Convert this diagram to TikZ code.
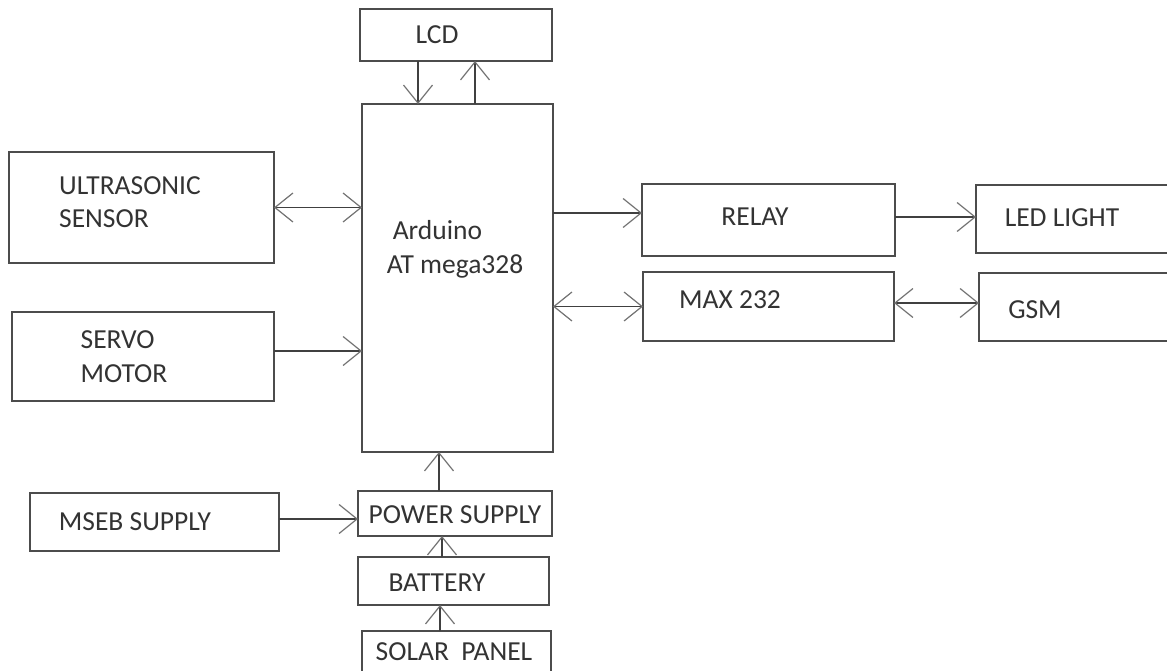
\documentclass[tikz,border=0pt]{standalone}
\usepackage{fontspec}
\setmainfont{Carlito}
\usetikzlibrary{arrows.meta}
\tikzset{
  blk/.style={draw=black!70, line width=2pt, rectangle, inner sep=0pt, outer sep=0pt},
  txt/.style={text=black!80, inner sep=0pt, align=left, font=\fontsize{27.5pt}{33.5pt}\selectfont},
  link/.style={draw=black!75, line width=1.5pt, -{Straight Barb[length=18pt, width=29pt, line width=1.2pt, color=black!55]}},
  link2/.style={link, {Straight Barb[length=18pt, width=29pt, line width=1.2pt, color=black!55]}-{Straight Barb[length=18pt, width=29pt, line width=1.2pt, color=black!55]}}
}

\begin{document}
\begin{tikzpicture}[x=1pt, y=-1pt]
    \fill[white] (0,0) rectangle (1167,671);
    \clip (0,0) rectangle (1167,671);
% Blocks
    \node[blk, minimum width=192, minimum height=52] (lcd) at (456,35) {};
    \node[blk, minimum width=191, minimum height=348] (ard) at (457.5,278) {};
    \node[blk, minimum width=265, minimum height=111] (us) at (141.5,207.5) {};
    \node[blk, minimum width=262, minimum height=89] (sv) at (143,356.5) {};
    \node[blk, minimum width=253, minimum height=72] (rl) at (768.5,220) {};
    \node[blk, minimum width=251, minimum height=69] (mx) at (768.5,306.5) {};
    \node[blk, minimum width=224, minimum height=68] (led) at (1088,219) {};
    \node[blk, minimum width=221, minimum height=68] (gsm) at (1089.5,307) {};
    \node[blk, minimum width=249, minimum height=58] (ms) at (154.5,522) {};
    \node[blk, minimum width=194, minimum height=45] (ps) at (455,513.5) {};
    \node[blk, minimum width=191, minimum height=48] (bat) at (453.5,581) {};
    \node[blk, minimum width=189, minimum height=59] (sol) at (456.5,660.5) {};
% Texts
    \node[txt] (lcdT) at (437,35) {LCD};
    \node[txt] (ardT) at (455,249.5) {\hspace*{6pt}Arduino\\AT mega328};
    \node[txt] (usT) at (130,202) {ULTRASONIC\\SENSOR};
    \node[txt] (svT) at (124,356.5) {SERVO\\MOTOR};
    \node[txt] (rlT) at (755,217) {RELAY};
    \node[txt] (mxT) at (730,300) {MAX 232};
    \node[txt] (ledT) at (1062,218) {LED LIGHT};
    \node[txt] (gsmT) at (1035,310) {GSM};
    \node[txt] (msT) at (135,522) {MSEB SUPPLY};
    \node[txt] (psT) at (455,515) {POWER SUPPLY};
    \node[txt] (batT) at (437,583) {BATTERY};
    \node[txt] (solT) at (454,652) {SOLAR\ \ PANEL};
% Connectors
    \draw[link] ([xshift=-38pt]lcd.south) -- ([xshift=-38pt]lcd.south |- ard.north);
    \draw[link] ([xshift=17.5pt]ard.north) -- ([xshift=17.5pt]ard.north |- lcd.south);
    \draw[link2] (us.east) -- (us.east -| ard.west);
    \draw[link] ([yshift=5.5pt]sv.east) -- ([yshift=5.5pt]sv.east -| ard.west);
    \draw[link] ([yshift=7pt]rl.west -| ard.east) -- ([yshift=7pt]rl.west);
    \draw[link] ([yshift=3pt]rl.east) -- ([yshift=3pt]rl.east -| led.west);
    \draw[link2] (mx.west -| ard.east) -- (mx.west);
    \draw[link2] ([yshift=3.5pt]mx.east) -- ([yshift=3.5pt]mx.east -| gsm.west);
    \draw[link] ([xshift=-16pt]ps.north) -- ([xshift=-16pt]ps.north |- ard.south);
    \draw[link] ([yshift=3pt]ms.east) -- ([yshift=3pt]ms.east -| ps.west);
    \draw[link] ([xshift=-11.5pt]bat.north) -- ([xshift=-11.5pt]bat.north |- ps.south);
    \draw[link] ([xshift=-16.5pt]sol.north) -- ([xshift=-16.5pt]sol.north |- bat.south);
\end{tikzpicture}
\end{document}
